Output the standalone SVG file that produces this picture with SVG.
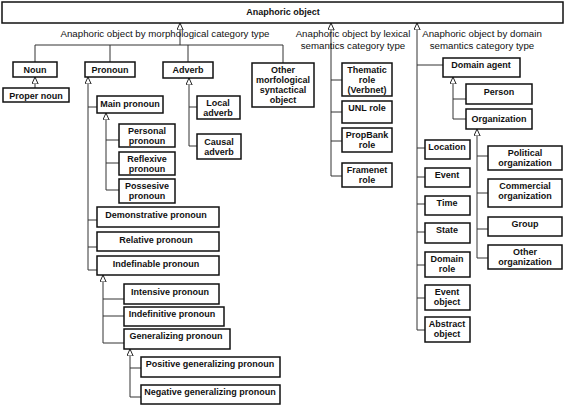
<svg xmlns="http://www.w3.org/2000/svg" width="566" height="406" viewBox="0 0 566 406">
<defs>
<marker id="tri" viewBox="0 0 10 10" refX="10" refY="5" markerWidth="7" markerHeight="7" markerUnits="userSpaceOnUse" orient="auto">
<path d="M0,0.5 L10,5 L0,9.5 z" fill="#fff" stroke="#222" stroke-width="1.4"/>
</marker>
<style>
rect{fill:#fff;stroke:#111;stroke-width:1.5}
text{font-family:"Liberation Sans",Arial,sans-serif;font-size:9px;font-weight:bold;fill:#111;text-anchor:middle}
text.l{font-weight:normal;font-size:9.7px}
.c path{fill:none;stroke:#333;stroke-width:1}
</style>
</defs>
<rect width="566" height="406" style="fill:#fff;stroke:none"/>
<g class="c" id="connectors">
<path d="M180,45 V23" marker-end="url(#tri)"/>
<path d="M35,62 V45 H283 V63 M110,45 V62 M188,45 V62"/>
<path d="M35,88 V77" marker-end="url(#tri)"/>
<path d="M97,107 H88 V270 H97 M88,220 H97 M88,247 H97"/>
<path d="M88,107 V77" marker-end="url(#tri)"/>
<path d="M119,190 H106 V140 H119 M106,163 H119"/>
<path d="M106,140 V113" marker-end="url(#tri)"/>
<path d="M124,343 H103 V299 H124 M103,316 H124"/>
<path d="M103,299 V275" marker-end="url(#tri)"/>
<path d="M141,397 H130 V368 H141"/>
<path d="M130,368 V349" marker-end="url(#tri)"/>
<path d="M197,146 H189 V107 H197"/>
<path d="M189,107 V78" marker-end="url(#tri)"/>
<path d="M342,176 H331 V80 H342 M331,112 H342 M331,141 H342"/>
<path d="M331,80 V23" marker-end="url(#tri)"/>
<path d="M425,330 H417 V65 H443 M417,148 H425 M417,177 H425 M417,204 H425 M417,232 H425 M417,265 H425 M417,298 H425"/>
<path d="M417,65 V23" marker-end="url(#tri)"/>
<path d="M466,119 H453 V99 H466"/>
<path d="M453,99 V77" marker-end="url(#tri)"/>
<path d="M488,258 H477 V156 H488 M477,193 H488 M477,229 H488"/>
<path d="M477,156 V129" marker-end="url(#tri)"/>
</g>
<g id="labels">
<text class="l" x="165" y="37">Anaphoric object by morphological category type</text>
<text class="l" x="353" y="37">Anaphoric object by lexical</text>
<text class="l" x="353" y="49">semantics category type</text>
<text class="l" x="482" y="37">Anaphoric object by domain</text>
<text class="l" x="482" y="49">semantics category type</text>
</g>
<g id="n-root"><rect x="2" y="2" width="561" height="21"/><text x="283" y="14.5">Anaphoric object</text></g>
<g id="n-noun"><rect x="13" y="62" width="44" height="15"/><text x="35" y="73">Noun</text></g>
<g id="n-proper-noun"><rect x="3" y="88" width="66" height="14"/><text x="36" y="99">Proper noun</text></g>
<g id="n-pronoun"><rect x="85" y="62" width="50" height="15"/><text x="110" y="73">Pronoun</text></g>
<g id="n-main-pronoun"><rect x="97" y="96" width="66" height="17"/><text x="130" y="107">Main pronoun</text></g>
<g id="n-personal"><rect x="119" y="124" width="56" height="23"/><text x="147" y="134">Personal</text><text x="147" y="144">pronoun</text></g>
<g id="n-reflexive"><rect x="119" y="152" width="56" height="23"/><text x="147" y="162">Reflexive</text><text x="147" y="172">pronoun</text></g>
<g id="n-possesive"><rect x="119" y="179" width="56" height="24"/><text x="147" y="189">Possesive</text><text x="147" y="199">pronoun</text></g>
<g id="n-demonstrative"><rect x="97" y="207" width="122" height="20"/><text x="156" y="218">Demonstrative pronoun</text></g>
<g id="n-relative"><rect x="97" y="232" width="122" height="19"/><text x="156" y="243">Relative pronoun</text></g>
<g id="n-indefinable"><rect x="97" y="256" width="122" height="19"/><text x="156" y="267">Indefinable pronoun</text></g>
<g id="n-intensive"><rect x="124" y="284" width="95" height="20"/><text x="170" y="295">Intensive pronoun</text></g>
<g id="n-indefinitive"><rect x="124" y="307" width="100" height="19"/><text x="172" y="317">Indefinitive pronoun</text></g>
<g id="n-generalizing"><rect x="124" y="329" width="106" height="20"/><text x="176" y="339">Generalizing pronoun</text></g>
<g id="n-positive"><rect x="141" y="357" width="139" height="20"/><text x="210" y="367">Positive generalizing pronoun</text></g>
<g id="n-negative"><rect x="141" y="385" width="139" height="19"/><text x="210" y="395">Negative generalizing pronoun</text></g>
<g id="n-adverb"><rect x="163" y="62" width="50" height="16"/><text x="188" y="73">Adverb</text></g>
<g id="n-local-adverb"><rect x="197" y="96" width="43" height="23"/><text x="218" y="106">Local</text><text x="218" y="116">adverb</text></g>
<g id="n-causal-adverb"><rect x="197" y="134" width="44" height="25"/><text x="219" y="145">Causal</text><text x="219" y="155">adverb</text></g>
<g id="n-other-morph"><rect x="252" y="63" width="62" height="44"/><text x="283" y="73">Other</text><text x="283" y="83">morfological</text><text x="283" y="93">syntactical</text><text x="283" y="103">object</text></g>
<g id="n-thematic"><rect x="342" y="63" width="50" height="33"/><text x="367" y="73">Thematic</text><text x="367" y="83">role</text><text x="367" y="93">(Verbnet)</text></g>
<g id="n-unl"><rect x="342" y="101" width="50" height="22"/><text x="367" y="111">UNL role</text></g>
<g id="n-propbank"><rect x="342" y="128" width="50" height="24"/><text x="367" y="138">PropBank</text><text x="367" y="148">role</text></g>
<g id="n-framenet"><rect x="342" y="163" width="50" height="24"/><text x="367" y="173">Framenet</text><text x="367" y="183">role</text></g>
<g id="n-domain-agent"><rect x="443" y="58" width="77" height="19"/><text x="481" y="68">Domain agent</text></g>
<g id="n-person"><rect x="466" y="84" width="66" height="20"/><text x="499" y="95">Person</text></g>
<g id="n-organization"><rect x="466" y="109" width="66" height="20"/><text x="499" y="122">Organization</text></g>
<g id="n-political"><rect x="488" y="146" width="74" height="24"/><text x="525" y="156">Political</text><text x="525" y="166">organization</text></g>
<g id="n-commercial"><rect x="488" y="179" width="74" height="28"/><text x="525" y="189">Commercial</text><text x="525" y="199">organization</text></g>
<g id="n-group"><rect x="488" y="217" width="74" height="19"/><text x="525" y="227">Group</text></g>
<g id="n-other-org"><rect x="488" y="245" width="74" height="24"/><text x="525" y="255">Other</text><text x="525" y="265">organization</text></g>
<g id="n-location"><rect x="425" y="140" width="45" height="19"/><text x="447" y="150">Location</text></g>
<g id="n-event"><rect x="425" y="168" width="45" height="19"/><text x="447" y="178">Event</text></g>
<g id="n-time"><rect x="425" y="196" width="45" height="19"/><text x="447" y="206">Time</text></g>
<g id="n-state"><rect x="425" y="223" width="45" height="20"/><text x="447" y="233">State</text></g>
<g id="n-domain-role"><rect x="425" y="252" width="45" height="25"/><text x="447" y="262">Domain</text><text x="447" y="272">role</text></g>
<g id="n-event-object"><rect x="425" y="285" width="45" height="25"/><text x="447" y="295">Event</text><text x="447" y="305">object</text></g>
<g id="n-abstract-object"><rect x="425" y="317" width="45" height="25"/><text x="447" y="327">Abstract</text><text x="447" y="337">object</text></g>
</svg>
